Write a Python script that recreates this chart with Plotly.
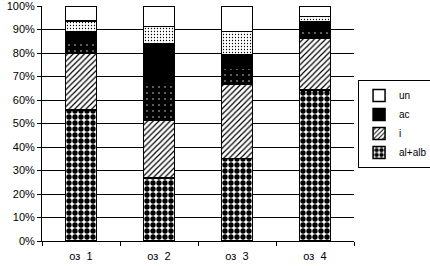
import plotly.graph_objects as go

categories = ["оз  1", "оз  2", "оз  3", "оз  4"]
al_alb = [55.7, 26.9, 35.2, 64.3]
i_vals = [24.4, 24.6, 31.6, 22.0]
ac_dots = [4.4, 16.3, 6.7, 3.8]
ac = [4.5, 16.3, 5.6, 3.2]
un_dots = [4.7, 7.1, 10.0, 2.2]
un = [6.3, 8.8, 10.9, 4.5]

ticks = [0, 10, 20, 30, 40, 50, 60, 70, 80, 90, 100]
tick_labels = [f"{t}%" for t in ticks]

line = dict(color="black", width=1.5)
fig = go.Figure()
fig.add_trace(go.Bar(x=categories, y=al_alb, name="al+alb",
                     marker=dict(color="white", line=line,
                                 pattern=dict(shape=".", fgcolor="black", bgcolor="white",
                                              size=6, solidity=0.62, fillmode="replace"))))
fig.add_trace(go.Bar(x=categories, y=i_vals, name="i",
                     marker=dict(color="white", line=line,
                                 pattern=dict(shape="/", fgcolor="black", bgcolor="white",
                                              size=4, solidity=0.3, fillmode="replace"))))
fig.add_trace(go.Bar(x=categories, y=ac_dots, name="ac2", showlegend=False,
                     marker=dict(color="black", line=line,
                                 pattern=dict(shape=".", fgcolor="white", bgcolor="black",
                                              size=6, solidity=0.04, fillmode="replace"))))
fig.add_trace(go.Bar(x=categories, y=ac, name="ac",
                     marker=dict(color="black", line=line)))
fig.add_trace(go.Bar(x=categories, y=un_dots, name="un2", showlegend=False,
                     marker=dict(color="white", line=line,
                                 pattern=dict(shape=".", fgcolor="black", bgcolor="white",
                                              size=3, solidity=0.15, fillmode="replace"))))
fig.add_trace(go.Bar(x=categories, y=un, name="un",
                     marker=dict(color="white", line=line)))

fig.update_layout(
    barmode="stack",
    bargap=0.6,
    width=430, height=266,
    margin=dict(l=42, r=76, t=6, b=25, autoexpand=False),
    paper_bgcolor="white", plot_bgcolor="white",
    font=dict(family="Liberation Sans, Arial, sans-serif", size=11, color="black"),
    showlegend=True,
    legend=dict(x=1.013, y=0.685, xanchor="left", yanchor="top",
                traceorder="reversed", bordercolor="black", borderwidth=1,
                bgcolor="white", font=dict(size=10), itemwidth=30,
                tracegroupgap=0),
    yaxis=dict(range=[0, 100], tickvals=ticks, ticktext=tick_labels,
               showgrid=True, gridcolor="black", gridwidth=1,
               showline=True, linecolor="black", linewidth=1,
               ticks="outside", ticklen=4, tickcolor="black", zeroline=False,
               automargin=False, ticklabeloverflow="allow"),
    xaxis=dict(showline=True, linecolor="black", linewidth=1,
               ticks="outside", ticklen=4, tickcolor="black",
               tickson="boundaries", showgrid=False, automargin=False,
               ticklabelstandoff=5, ticklabeloverflow="allow"),
)

fig.write_html("out.html",
               config={"displayModeBar": False},
               post_script="document.body.style.margin='0';document.body.style.overflow='hidden';")
